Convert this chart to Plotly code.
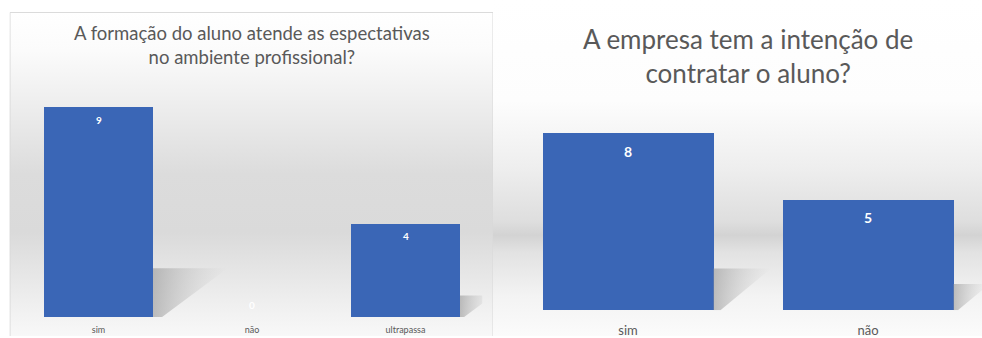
import base64
import plotly.graph_objects as go

# ---- data ----
cats_formacao = ["sim", "não", "ultrapassa"]
vals_formacao = [9, 0, 4]
title_formacao = "A formação do aluno atende as espectativas<br>no ambiente profissional?"

cats_contratar = ["sim", "não"]
vals_contratar = [8, 5]
title_contratar = "A empresa tem a intenção de<br>contratar o aluno?"

W, H = 982, 338
BAR = "#3a66b6"
TXT = "#595959"
FONT = "Lato"


def px_x(p):
    return p / W


def px_y(p):
    return 1 - p / H


def gradient_svg(w, h, stops, border=None):
    """Vertical linear gradient panel as an SVG data URI."""
    st = "".join(f'<stop offset="{o}" stop-color="{c}"/>' for o, c in stops)
    stroke = ""
    if border:
        stroke = (f'<path d="M0.5 {h} L0.5 0.5 L{w - 0.5} 0.5 L{w - 0.5} {h}" '
                  f'fill="none" stroke="{border}" stroke-width="1"/>')
    svg = (f'<svg xmlns="http://www.w3.org/2000/svg" width="{w}" height="{h}" '
           f'viewBox="0 0 {w} {h}" preserveAspectRatio="none">'
           f'<defs><linearGradient id="g" x1="0" y1="0" x2="0" y2="1">{st}</linearGradient></defs>'
           f'<rect width="{w}" height="{h}" fill="url(#g)"/>{stroke}</svg>')
    return "data:image/svg+xml;base64," + base64.b64encode(svg.encode()).decode()


fig = go.Figure()
labels = []


def add_panel(cats, vals, xa, ya, shadow_len, shadow_h, bar_w, label_size, label_drop):
    xs = list(range(len(cats)))
    # soft floor shadows cast to the right of each bar
    for x, v in zip(xs, vals):
        if v <= 0:
            continue
        x0 = x + bar_w / 2
        x1 = x0 + shadow_len * v
        y1 = shadow_h * v
        fig.add_trace(go.Scatter(
            x=[x0, x0, x1, x0 + (x1 - x0) * 0.12, x0],
            y=[0, y1, y1, 0, 0],
            fill="toself", mode="none", hoverinfo="skip", showlegend=False,
            fillgradient=dict(type="horizontal",
                              colorscale=[[0, "rgba(150,150,150,0.6)"],
                                          [1, "rgba(195,195,195,0.0)"]]),
            xaxis=xa, yaxis=ya,
        ))
    fig.add_trace(go.Bar(
        x=xs, y=vals, width=bar_w,
        marker=dict(color=BAR, line=dict(width=0)),
        showlegend=False, hoverinfo="skip",
        xaxis=xa, yaxis=ya,
    ))
    # value labels: inside the top of each bar, just above the floor for zero
    for x, v in zip(xs, vals):
        labels.append(dict(
            text=str(v), x=x, y=v, xref=xa, yref=ya, showarrow=False,
            yanchor="middle", yshift=-label_drop if v > 0 else label_drop,
            font=dict(family=FONT, size=label_size, color="white", weight="bold"),
        ))


add_panel(cats_formacao, vals_formacao, "x", "y", 0.054, 0.233, 0.71, 10, 12)
add_panel(cats_contratar, vals_contratar, "x2", "y2", 0.030, 0.236, 0.7125, 14, 18)

axis_common = dict(showgrid=False, zeroline=False, showline=False, fixedrange=True)

fig.update_layout(
    width=W, height=H,
    margin=dict(l=0, r=0, t=0, b=0),
    paper_bgcolor="white", plot_bgcolor="rgba(0,0,0,0)",
    font=dict(family=FONT, color=TXT),
    bargap=0,
    xaxis=dict(domain=[px_x(21.75), px_x(482.25)], range=[-0.5, 2.5],
               tickvals=list(range(len(cats_formacao))), ticktext=cats_formacao,
               tickfont=dict(size=9, color=TXT), ticks="", ticklabelstandoff=6,
               anchor="y", **axis_common),
    yaxis=dict(domain=[19 / H, px_y(85)], range=[0, 10], visible=False,
               anchor="x", **axis_common),
    xaxis2=dict(domain=[px_x(508), 1.0], range=[-0.5, 1.475],
                tickvals=list(range(len(cats_contratar))), ticktext=cats_contratar,
                tickfont=dict(size=13, color=TXT), ticks="", ticklabelstandoff=11,
                anchor="y2", **axis_common),
    yaxis2=dict(domain=[26 / H, px_y(89.5)], range=[0, 10], visible=False,
                anchor="x2", **axis_common),
    annotations=[
        dict(text=title_formacao, xref="paper", yref="paper",
             x=px_x(252), y=px_y(20), xanchor="center", yanchor="top",
             showarrow=False, font=dict(family=FONT, size=18.5, color=TXT)),
        dict(text=title_contratar, xref="paper", yref="paper",
             x=px_x(748), y=px_y(21), xanchor="center", yanchor="top",
             showarrow=False, font=dict(family=FONT, size=26, color=TXT)),
    ] + labels,
    images=[
        dict(source=gradient_svg(484, 326,
                                 [(0, "#ffffff"), (0.12, "#fbfbfb"), (0.5, "#dcdcdc"),
                                  (0.68, "#dadada"), (0.9, "#efefef"), (1, "#f8f8f8")],
                                 border="#d9d9d9"),
             xref="paper", yref="paper", x=px_x(9.5), y=px_y(12),
             sizex=484 / W, sizey=326 / H, sizing="stretch",
             xanchor="left", yanchor="top", layer="below"),
        dict(source=gradient_svg(489, 338,
                                 [(0, "#ffffff"), (0.3, "#fdfdfd"), (0.5, "#eeeeee"),
                                  (0.66, "#dedede"), (0.70, "#d3d3d3"), (0.75, "#e2e2e2"),
                                  (0.88, "#f3f3f3"), (1, "#fbfbfb")]),
             xref="paper", yref="paper", x=px_x(493), y=1,
             sizex=489 / W, sizey=1, sizing="stretch",
             xanchor="left", yanchor="top", layer="below"),
    ],
)

fig.write_html("out.html")
